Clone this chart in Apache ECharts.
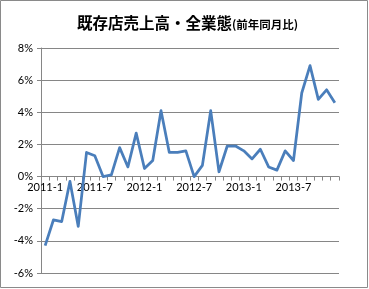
<!DOCTYPE html>
<html><head><meta charset="utf-8">
<script src="https://cdn.jsdelivr.net/npm/echarts@6/dist/echarts.min.js"></script>
<style>html,body{margin:0;padding:0;background:#fff}#c{width:369px;height:289px}</style>
</head><body><div id="c"></div>
<script>
const categories = [
  '2011-1','2011-2','2011-3','2011-4','2011-5','2011-6','2011-7','2011-8','2011-9','2011-10','2011-11','2011-12',
  '2012-1','2012-2','2012-3','2012-4','2012-5','2012-6','2012-7','2012-8','2012-9','2012-10','2012-11','2012-12',
  '2013-1','2013-2','2013-3','2013-4','2013-5','2013-6','2013-7','2013-8','2013-9','2013-10','2013-11','2013-12'
];
const values = [
  -4.3,-2.7,-2.8,-0.3,-3.1,1.5,1.3,0.0,0.1,1.8,0.6,2.7,
  0.5,1.0,4.1,1.5,1.5,1.6,0.0,0.7,4.1,0.3,1.9,1.9,
  1.6,1.1,1.7,0.6,0.4,1.6,1.0,5.2,6.9,4.8,5.4,4.6
];
const titleMain = '既存店売上高・全業態';
const titleSub = '(前年同月比)';
const yMin = -6, yMax = 8, yStep = 2;

const W = 369, H = 289;
const gridTop = 48, gridBottom = 16;
const plotH = H - gridTop - gridBottom;
const zeroOffset = -(0 - yMin) / (yMax - yMin) * plotH;

const chart = echarts.init(document.getElementById('c'), null, {renderer:'canvas'});
const font = 'Lato, "Open Sans", "Liberation Sans", sans-serif';
chart.setOption({
  animation: false,
  title: {
    text: '{a|' + titleMain + '}{b|' + titleSub + '}',
    left: 72, top: 10,
    textStyle: {
      rich: {
        a: {fontSize: 15.5, fontWeight: 'bold', color: '#000', fontFamily: '"Noto Sans CJK JP", sans-serif'},
        b: {fontSize: 11.5, fontWeight: 'bold', color: '#000', fontFamily: '"Noto Sans CJK JP", sans-serif', padding:[3,0,0,0]}
      }
    }
  },
  graphic: [{
    type: 'rect', shape: {x: 0.5, y: 0.5, width: 367, height: 287},
    style: {fill: 'none', stroke: '#8a8a8a', lineWidth: 1}, silent: true
  }],
  grid: {left: 41, right: 30, top: gridTop, bottom: gridBottom, containLabel: false},
  xAxis: {
    type: 'category', data: categories, boundaryGap: true, position: 'bottom',
    offset: zeroOffset,
    axisLine: {onZero: false, lineStyle: {color: '#868686', width: 1}},
    axisTick: {show: true, alignWithLabel: false, interval: 0, length: 4, lineStyle: {color: '#868686'}},
    axisLabel: {interval: 5, color: '#000', fontSize: 11, fontFamily: font, margin: 5},
    splitLine: {show: false}
  },
  yAxis: {
    type: 'value', min: yMin, max: yMax, interval: yStep,
    axisLine: {show: true, lineStyle: {color: '#868686', width: 1}},
    axisTick: {show: true, length: 4, lineStyle: {color: '#868686'}},
    axisLabel: {formatter: '{value}%', color: '#000', fontSize: 11, fontFamily: font, margin: 8},
    splitLine: {show: true, lineStyle: {color: '#868686', width: 1}}
  },
  series: [{
    type: 'line', data: values, symbol: 'none', smooth: false,
    lineStyle: {color: '#4A7EBB', width: 2.75, join: 'round'}
  }]
});
</script></body></html>
